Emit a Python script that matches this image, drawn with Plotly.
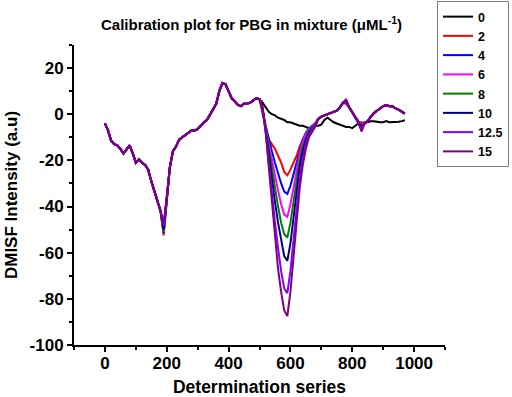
import plotly.graph_objects as go

# ---- data ----
series_names = ["0", "2", "4", "6", "8", "10", "12.5", "15"]
series_colors = ["#000000", "#FF0000", "#0000FF", "#FF00FF", "#008000", "#000080", "#8000FF", "#800080"]

x_tick_vals = [0, 200, 400, 600, 800, 1000]
x_tick_text = ["0", "200", "400", "600", "800", "1000"]
y_tick_vals = [-100, -80, -60, -40, -20, 0, 20]
y_tick_text = ["-100", "-80", "-60", "-40", "-20", "0", "20"]

x_head = list(range(0, 510, 10))          # 0..500
head_values = [-4, -7, -11.5, -13, -13.5, -15, -17, -15, -13.5, -17,
               -21, -19.5, -21, -22, -24, -29, -33, -37, -42, -50,
               -37, -23, -16, -14, -11, -10, -9, -8, -7, -7,
               -6.5, -5, -3.5, -2.5, 0, 2, 4.5, 10, 13.5, 13,
               10, 7, 5.5, 4, 3.5, 4.5, 4.5, 5, 6, 7, 6.5]
dip190 = [-49, -52.5, -51.5, -51, -51, -50, -48.5, -47]

x_black_tail = list(range(510, 980, 10))  # 510..970
black_tail = [5, 3, 1, 0, -0.5, -1.5, -2, -2.5, -3.5, -3.5,
              -4, -4.5, -5, -5, -5.5, -6, -5.5, -5, -5, -4.5,
              -2.5, -1.5, -2.5, -3.5, -4, -4.5, -5, -5.5, -5.5, -6,
              -5, -4, -4, -3.5, -3.5, -3, -3, -3.3, -3.5, -3.5,
              -3, -3.5, -3.5, -3.5, -3.3, -3, -2.6]

x_dip = list(range(510, 690, 10))         # 510..680
dip_2 = [0, -6, -11, -13, -15, -18, -21, -25, -26.5, -24, -21, -18, -14, -11, -9, -7, -5, -4]
dip_4 = [2, -5, -11, -16, -21, -26, -30, -33.5, -34.5, -31, -26, -20, -15, -11, -8, -6, -5, -4]
dip_6 = [2, -6, -13, -20, -27, -33, -39, -43.5, -44.5, -39, -32, -24, -17, -12, -8.5, -6.5, -5, -4]
dip_8 = [2, -6, -15, -24, -32, -40, -47, -52, -53.5, -47, -38, -28, -20, -14, -10, -7, -5.5, -4.5]
dip_10 = [2.5, -7, -18, -28, -38, -47, -55, -61.5, -63.5, -56, -45, -33, -23, -16, -11, -8, -6, -5]
dip_12_5 = [3, -7.5, -21, -34, -47, -58, -68, -75.5, -77.5, -68, -55, -40, -28, -19, -13, -9, -6.5, -5]
dip_15 = [3, -8, -23, -40, -55, -67, -77, -85, -87.5, -77, -62, -46, -32, -22, -15, -10, -7.5, -5.5]

x_tail = list(range(690, 980, 10))        # 690..970
tail_values = [-2, -1, -0.5, 0, 0.5, 1, 1.5, 3, 5, 5,
               3, 1, -1.5, -3.5, -5, -4, -3, -1, 0.5, 1.5,
               2.5, 3.5, 4, 3.5, 3.5, 2.5, 2, 1, 0.3]
peak780 = [4.5, 5, 5, 5.5, 5.5, 6, 6.5]
dip830 = [-3.5, -5, -4.5, -5, -5.5, -6.5, -7.5]

dips = [dip_2, dip_4, dip_6, dip_8, dip_10, dip_12_5, dip_15]

fig = go.Figure()
for i, name in enumerate(series_names):
    head = list(head_values)
    head[x_head.index(190)] = dip190[i]
    if i == 0:
        xs = x_head + x_black_tail
        ys = head + black_tail
    else:
        tail = list(tail_values)
        tail[x_tail.index(780)] = peak780[i - 1]
        tail[x_tail.index(830)] = dip830[i - 1]
        xs = x_head + x_dip + x_tail
        ys = head + dips[i - 1] + tail
    fig.add_trace(go.Scatter(x=xs, y=ys, mode="lines", name=name,
                             line=dict(color=series_colors[i], width=2)))

font_family = "Liberation Sans, Arial, sans-serif"

fig.update_layout(
    width=512, height=397,
    margin=dict(l=74, r=67, t=45, b=52, autoexpand=False),
    paper_bgcolor="white", plot_bgcolor="white",
    font=dict(family=font_family, color="black", size=16, weight="bold"),
    showlegend=True,
    legend=dict(x=(437 - 74) / 371, y=(345 - 1) / 300, xanchor="left", yanchor="top",
                bordercolor="#808080", borderwidth=1, bgcolor="white",
                font=dict(size=12.5, family=font_family, weight="bold"),
                tracegroupgap=0, itemwidth=30),
    annotations=[dict(text="Calibration plot for PBG in mixture (μML<sup>-1</sup>)",
                      xref="paper", yref="paper", x=(251 - 74) / 371, y=(345 - 23) / 300,
                      xanchor="center", yanchor="middle", showarrow=False,
                      font=dict(size=15, family=font_family, weight="bold"))],
)
fig.update_xaxes(range=[-100, 1100], tickvals=x_tick_vals, ticktext=x_tick_text,
                 showline=True, linewidth=2,
                 linecolor="black", ticks="outside", ticklen=5, tickwidth=2, tickcolor="black",
                 minor=dict(dtick=100, tick0=0, ticks="outside", ticklen=3, tickwidth=2, tickcolor="black"),
                 showgrid=False, zeroline=False, ticklabelstandoff=-3,
                 title=dict(text="Determination series", standoff=11,
                            font=dict(size=17.5, family=font_family, weight="bold")),
                 tickfont=dict(size=17, family=font_family, weight="bold"))
fig.update_yaxes(range=[-100, 30], tickvals=y_tick_vals, ticktext=y_tick_text,
                 showline=True, linewidth=2,
                 linecolor="black", ticks="outside", ticklen=5, tickwidth=2, tickcolor="black",
                 minor=dict(dtick=10, tick0=0, ticks="outside", ticklen=3, tickwidth=2, tickcolor="black"),
                 showgrid=False, zeroline=False,
                 title=dict(text="DMISF Intensity (a.u)", standoff=8,
                            font=dict(size=17, family=font_family, weight="bold")),
                 tickfont=dict(size=17, family=font_family, weight="bold"))

fig.write_html("out.html", config={"displayModeBar": False},
               post_script="document.body.style.margin='0';document.body.style.overflow='hidden';")
